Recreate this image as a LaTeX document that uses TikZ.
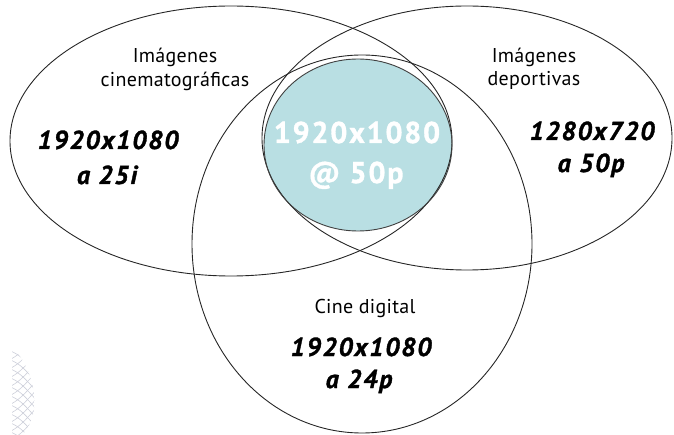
\documentclass[tikz,border=0pt]{standalone}
\usepackage{fontspec}
\setmainfont{PT Sans}
\definecolor{coreteal}{RGB}{185,223,227}
\definecolor{meshgray}{RGB}{205,207,218}
\begin{document}
\begin{tikzpicture}[x=1pt,y=-1pt,
  ring/.style={draw=black!85, line width=0.9pt},
  setname/.style={font=\fontsize{20}{23}\selectfont\addfontfeatures{LetterSpace=1.5},
    text=black, inner sep=0pt, anchor=base},
  spec/.style={font=\fontsize{26}{29}\selectfont\bfseries\itshape\addfontfeatures{LetterSpace=7,FakeBold=1.3},
    text=black, inner sep=0pt, anchor=base},
  core/.style={font=\fontsize{30}{33}\selectfont\bfseries\addfontfeatures{LetterSpace=6,FakeBold=1.2},
    text=white, inner sep=0pt, anchor=base},
  meshline/.style={draw=meshgray, line width=0.6pt}]
\useasboundingbox (0,0) rectangle (674,435);

% shared format in the middle
\fill[coreteal] (358,145) ellipse [x radius=94pt, y radius=86pt];

% the three sets
\draw[ring] (231,141) ellipse [x radius=221pt, y radius=135pt];
\draw[ring] (467,138) ellipse [x radius=205pt, y radius=132pt];
\draw[ring] (362,244) ellipse [x radius=170pt, y radius=189pt];
\draw[ring, draw=black!75] (358,145) ellipse [x radius=94pt, y radius=86pt];

% woven ornament in the lower left corner
\begin{scope}
  \clip (12,348) .. controls (28,360) and (37,392) .. (34,410)
        .. controls (31,424) and (26,432) .. (21,435) -- (12,435) -- cycle;
  \foreach \k in {0,...,12} {
    \draw[meshline] (6,322+9*\k) .. controls (20,328+9*\k) .. (40,350+9*\k);
    \draw[meshline] (6,362+9*\k) .. controls (20,354+9*\k) .. (40,332+9*\k);
  }
\end{scope}

% left set
\node[setname] (cineTitleA) at (175,63) {Imágenes};
\node[setname] (cineTitleB) at (175,87) {cinematográficas};
\node[spec] (cineRes) at (108,149) {1920x1080};
\node[spec] (cineRate) at (107,184) {a 25i};

% right set
\node[setname] (sportTitleA) at (534,63) {Imágenes};
\node[setname] (sportTitleB) at (534,86) {deportivas};
\node[spec] (sportRes) at (592,140) {1280x720};
\node[spec] (sportRate) at (591,172) {a 50p};

% bottom set
\node[setname] (digTitle) at (365,313) {Cine digital};
\node[spec] (digRes) at (361,356) {1920x1080};
\node[spec] (digRate) at (359,388) {a 24p};

% common core
\node[core] (coreRes) at (357,143) {1920x1080};
\node[core] (coreRate) at (356,183) {@ 50p};
\end{tikzpicture}
\end{document}
